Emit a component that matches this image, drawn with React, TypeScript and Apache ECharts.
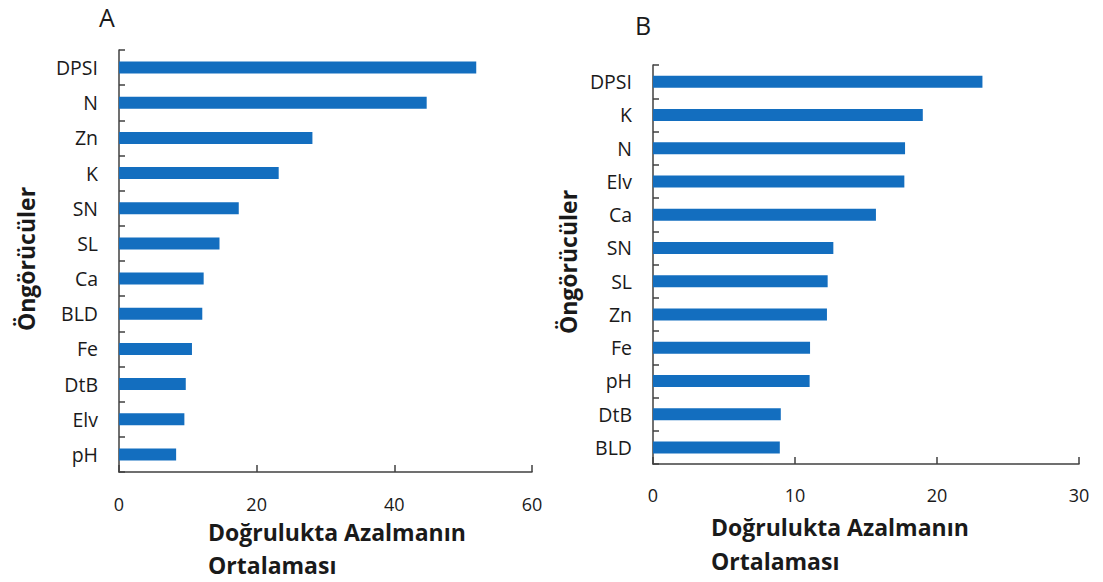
import React, { useEffect, useRef } from "react";
import * as echarts from "echarts";

const catsA = ["DPSI", "N", "Zn", "K", "SN", "SL", "Ca", "BLD", "Fe", "DtB", "Elv", "pH"];
const valsA = [51.9, 44.7, 28.1, 23.2, 17.4, 14.6, 12.3, 12.1, 10.6, 9.7, 9.5, 8.3];
const catsB = ["DPSI", "K", "N", "Elv", "Ca", "SN", "SL", "Zn", "Fe", "pH", "DtB", "BLD"];
const valsB = [23.2, 19.0, 17.75, 17.7, 15.7, 12.7, 12.3, 12.25, 11.06, 11.03, 9.0, 8.93];
const panelLabels = ["A", "B"];
const xTitleLine1 = "Doğrulukta Azalmanın";
const xTitleLine2 = "Ortalaması";
const yTitle = "Öngörücüler";

const FONT = "Open Sans";
const AXIS = "#404040";
const TEXT = "#1a1a1a";
const BAR = "#136ebf";

export default function App() {
  const ref = useRef<HTMLDivElement>(null);
  useEffect(() => {
    document.body.style.margin = "0";
    const chart = echarts.init(ref.current!, null, { renderer: "svg" });
    const xAxisCommon = (max: number, interval: number, grid: number, margin: number) => ({
      type: "value",
      gridIndex: grid,
      min: 0,
      max,
      interval,
      splitLine: { show: false },
      axisLine: { show: true, lineStyle: { color: AXIS, width: 1.5 } },
      axisTick: { show: true, inside: true, length: 7, lineStyle: { color: AXIS, width: 1.5 } },
      axisLabel: { color: TEXT, fontFamily: FONT, fontSize: 18, lineHeight: 14, margin },
    });
    const yAxisCommon = (cats: string[], grid: number) => ({
      type: "category",
      gridIndex: grid,
      data: cats,
      inverse: true,
      axisLine: { show: true, lineStyle: { color: AXIS, width: 1.5 } },
      axisTick: { show: true, inside: true, length: 6, lineStyle: { color: AXIS, width: 1.5 } },
      axisLabel: { color: TEXT, fontFamily: FONT, fontSize: 19.5, margin: 21 },
    });
    const txt = (text: string, x: number, y: number, size: number, bold: boolean, align = "left", rotation = 0) => ({
      type: "text",
      x,
      y,
      rotation,
      style: {
        text,
        fill: TEXT,
        font: `${bold ? "bold " : ""}${size}px "${FONT}"`,
        lineHeight: Math.round(size * 0.8),
        align,
        verticalAlign: "middle",
      },
    });
    chart.setOption({
      animation: false,
      grid: [
        { left: 119, right: 1103 - 532, top: 50, bottom: 582 - 472 },
        { left: 653, right: 1103 - 1079, top: 65, bottom: 582 - 464 },
      ],
      xAxis: [xAxisCommon(60, 20, 0, 25), xAxisCommon(30, 10, 1, 24)],
      yAxis: [yAxisCommon(catsA, 0), yAxisCommon(catsB, 1)],
      series: [
        { type: "bar", xAxisIndex: 0, yAxisIndex: 0, data: valsA, barWidth: 12, itemStyle: { color: BAR } },
        { type: "bar", xAxisIndex: 1, yAxisIndex: 1, data: valsB, barWidth: 12, itemStyle: { color: BAR } },
      ],
      graphic: [
        txt(panelLabels[0], 107, 17, 25, false, "center"),
        txt(panelLabels[1], 643, 25, 25, false, "center"),
        txt(xTitleLine1, 208, 532, 23, true),
        txt(xTitleLine2, 208, 565, 23, true),
        txt(xTitleLine1, 711, 527, 23, true),
        txt(xTitleLine2, 711, 561, 23, true),
        txt(yTitle, 26, 259, 23, true, "center", Math.PI / 2),
        txt(yTitle, 568, 262, 23, true, "center", Math.PI / 2),
      ],
    });
    return () => chart.dispose();
  }, []);
  return <div ref={ref} style={{ width: 1103, height: 582, background: "#fff" }} />;
}
